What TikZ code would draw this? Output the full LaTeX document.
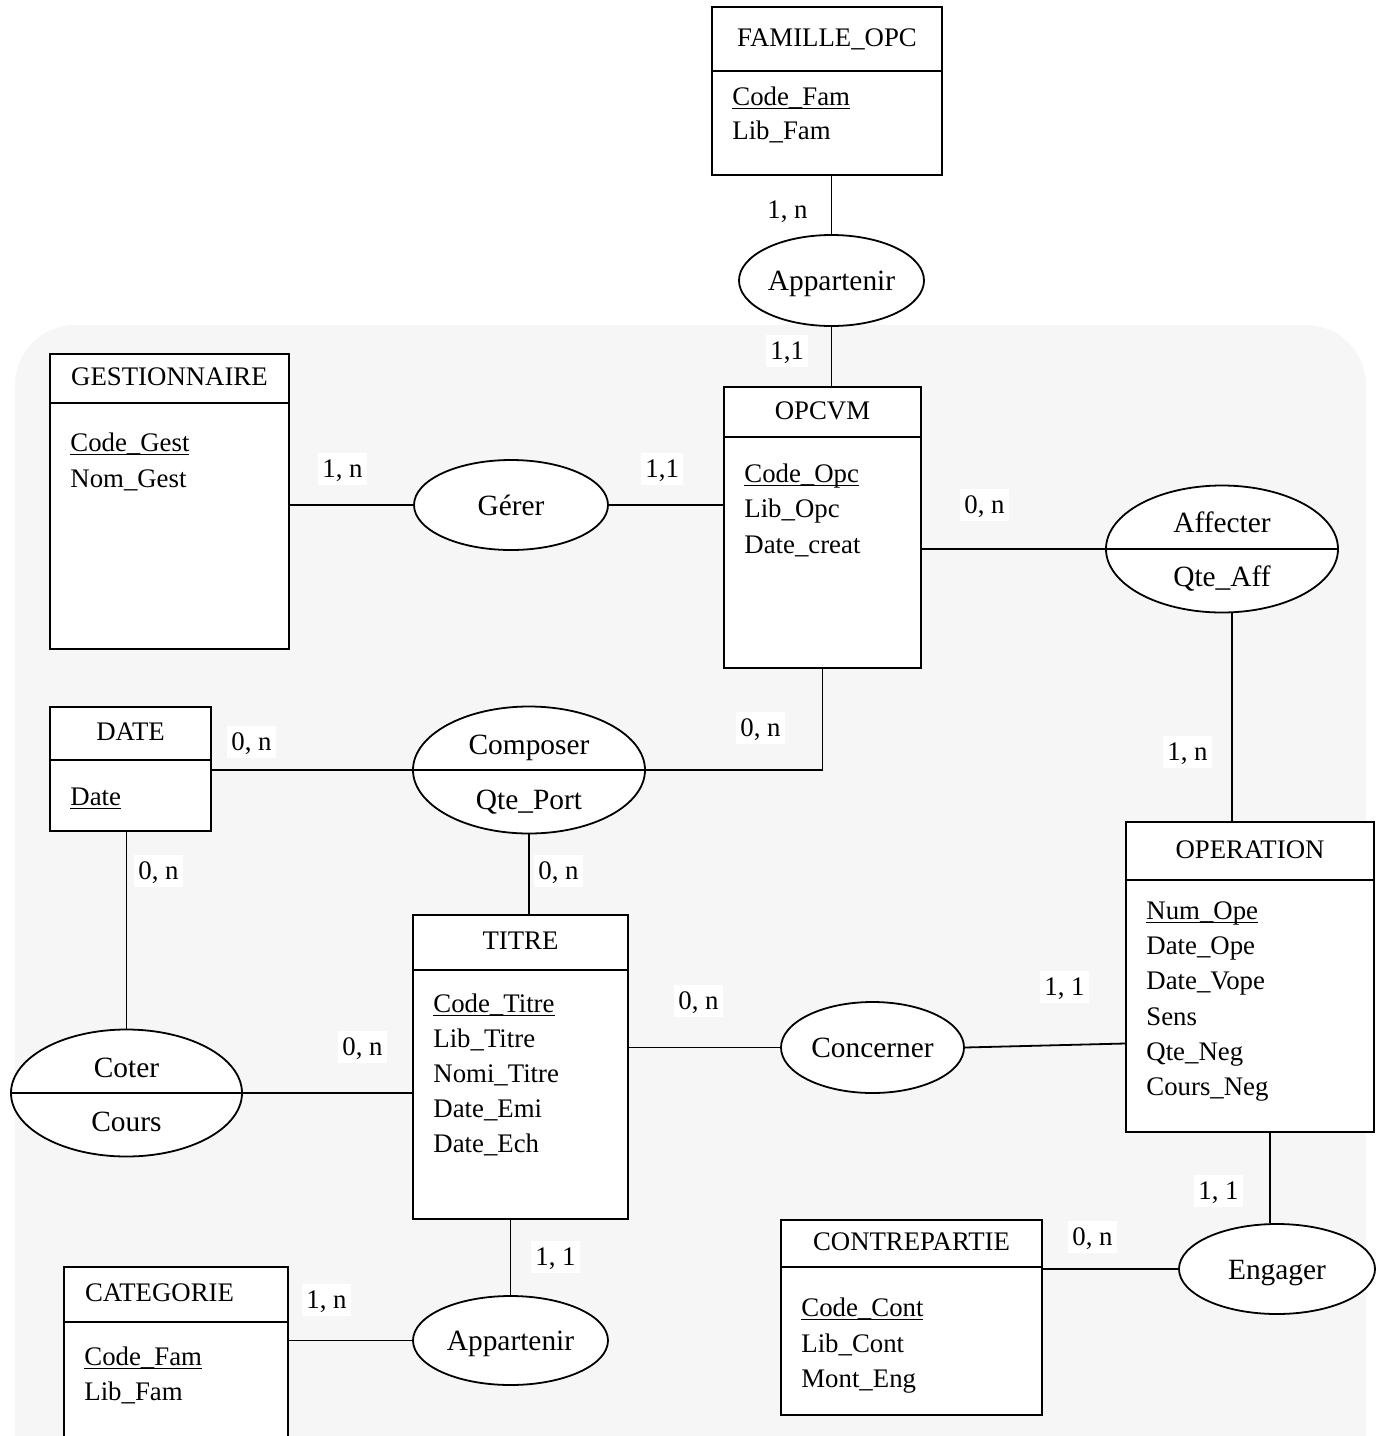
\documentclass[tikz,border=0pt]{standalone}
\usepackage{fontspec}
\setmainfont{Liberation Serif}
\usepackage{tikz}
\usetikzlibrary{shapes.geometric, positioning, fit}

% entity box: [title options]{name}{x1}{y1}{x2}{y2}{separator y}{title}{y/attribute list}
\newcommand{\entite}[9][]{%
  \node[ent, fit={(#3,#4) (#5,#6)}] (#2) {};
  \draw[lien] (#3,#7) -- (#5,#7);
  \node[etitle, #1] (#2-titre) at ({(#3+#5)/2}, {(#4+#7)/2}) {#8};
  \foreach \y/\a [count=\i] in {#9}
    \node[attr] (#2-\i) at (#3+20, \y) {\a};
}
\newcommand{\cle}[1]{\underline{\smash{#1}}}

\begin{document}
\begin{tikzpicture}[x=0.5pt, y=-0.5pt,
    ent/.style={draw, fill=white, line width=0.9pt, inner sep=0pt},
    lien/.style={line width=0.9pt},
    etitle/.style={inner sep=0pt, text height=0.73em, text depth=0pt, font=\fontsize{13.4}{16}\selectfont},
    attr/.style={anchor=west, inner sep=0pt, text height=0.88em, text depth=0pt, font=\fontsize{13.4}{16}\selectfont},
    rel/.style={draw, ellipse, fill=white, line width=0.9pt, inner sep=0pt,
                text height=1em, text depth=0pt, font=\fontsize{14.7}{17}\selectfont},
    rtxt/.style={inner sep=0pt, text height=0.93em, text depth=0pt, font=\fontsize{14.7}{17}\selectfont},
    card/.style={fill=white, anchor=west, inner xsep=2pt, inner ysep=3.75pt,
                 text height=0.85em, text depth=0pt, font=\fontsize{13.4}{16}\selectfont}
  ]
    \useasboundingbox (0,0) rectangle (1381,1436);
    \clip (0,0) rectangle (1381,1436);

    % faint watermark behind the model
    \fill[gray!7, rounded corners=30pt] (15,325) rectangle (1366,1500);

    % entities
    \entite{fam}{712}{7}{942}{175}{71}{FAMILLE\_OPC}{97/\cle{Code\_Fam}, 131/Lib\_Fam}
    \entite{gest}{50}{354}{289}{649}{403}{GESTIONNAIRE}{443/\cle{Code\_Gest}, 479/Nom\_Gest}
    \entite{opcvm}{724}{387}{921}{668}{437}{OPCVM}{474/\cle{Code\_Opc}, 509/Lib\_Opc, 545/Date\_creat}
    \entite{date}{50}{707}{211}{831}{760}{DATE}{797/\cle{Date}}
    \entite{titre}{413}{915}{628}{1219}{970}{TITRE}{1004/\cle{Code\_Titre}, 1039/Lib\_Titre,
      1074/Nomi\_Titre, 1109/Date\_Emi, 1144/Date\_Ech}
    \entite{oper}{1126}{822}{1374}{1132}{880}{OPERATION}{911/\cle{Num\_Ope}, 946/Date\_Ope,
      981/Date\_Vope, 1017/Sens, 1052/Qte\_Neg, 1087/Cours\_Neg}
    \entite[xshift=-8.25pt]{cat}{64}{1267}{288}{1470}{1322}{CATEGORIE}{1357/\cle{Code\_Fam}, 1392/Lib\_Fam}
    \entite{contre}{781}{1220}{1042}{1415}{1267}{CONTREPARTIE}{1308/\cle{Code\_Cont}, 1344/Lib\_Cont, 1379/Mont\_Eng}

    % associations
    \node[rel, minimum width=92.5pt, minimum height=45.5pt] (app1) at (831.5,280.5) {Appartenir};
    \node[rel, minimum width=97pt, minimum height=45pt]     (gerer) at (511,505) {Gérer};
    \node[rel, minimum width=116pt, minimum height=63.5pt]  (aff) at (1222,549) {};
    \node[rel, minimum width=116pt, minimum height=63.5pt]  (comp) at (529,770) {};
    \node[rel, minimum width=115.5pt, minimum height=63.5pt] (coter) at (126.5,1093) {};
    \node[rel, minimum width=91.5pt, minimum height=45.5pt] (conc) at (872.5,1047.5) {Concerner};
    \node[rel, minimum width=98pt, minimum height=45pt]     (eng) at (1277,1269) {Engager};
    \node[rel, minimum width=97.5pt, minimum height=44.5pt] (app2) at (510.5,1340.5) {Appartenir};

    \node[rtxt] (aff-nom)   at ([yshift=13pt]aff.center)    {Affecter};
    \node[rtxt] (aff-att)   at ([yshift=-14pt]aff.center)   {Qte\_Aff};
    \node[rtxt] (comp-nom)  at ([yshift=12.5pt]comp.center) {Composer};
    \node[rtxt] (comp-att)  at ([yshift=-15pt]comp.center)  {Qte\_Port};
    \node[rtxt] (coter-nom) at ([yshift=12.5pt]coter.center) {Coter};
    \node[rtxt] (coter-att) at ([yshift=-14.5pt]coter.center) {Cours};

    % links
    \draw[lien] (app1.north) -- (app1.north |- fam.south);
    \draw[lien] (app1.south) -- (app1.south |- opcvm.north);
    \draw[lien] (gerer.west) -- (gerer.west -| gest.east);
    \draw[lien] (gerer.east) -- (gerer.east -| opcvm.west);
    \draw[lien] (aff.west -| opcvm.east) -- (aff.west) -- (aff.east);
    \draw[lien] ([xshift=5pt]aff.south) -- ([xshift=5pt]aff.south |- oper.north);
    \draw[lien] (comp.center -| date.east) -- (comp.center -| opcvm.south) -- (opcvm.south);
    \draw[lien] (comp.south) -- (comp.south |- titre.north);
    \draw[lien] (coter.north) -- (coter.north |- date.south);
    \draw[lien] (coter.west) -- (coter.east) -- (coter.east -| titre.west);
    \draw[lien] (conc.west) -- (conc.west -| titre.east);
    \draw[lien] (conc.east) -- ([yshift=2pt]conc.east -| oper.west);
    \draw[lien] ([xshift=-3.5pt]eng.north) -- ([xshift=-3.5pt]eng.north |- oper.south);
    \draw[lien] (eng.west) -- (eng.west -| contre.east);
    \draw[lien] (app2.north) -- (app2.north |- titre.south);
    \draw[lien] (app2.west) -- (app2.west -| cat.east);

    % cardinalities
    \node[card] (c-fam)    at (763,210)   {1, n};
    \node[card] (c-opc1)   at (766,351)   {1,1};
    \node[card] (c-gest)   at (318,469)   {1, n};
    \node[card] (c-opc2)   at (641,469)   {1,1};
    \node[card] (c-opc3)   at (960,505)   {0, n};
    \node[card] (c-oper1)  at (1163,752)  {1, n};
    \node[card] (c-date1)  at (227,742)   {0, n};
    \node[card] (c-opc4)   at (736,728)   {0, n};
    \node[card] (c-titre1) at (534,871)   {0, n};
    \node[card] (c-date2)  at (134,871)   {0, n};
    \node[card] (c-titre2) at (338,1047)  {0, n};
    \node[card] (c-titre3) at (674,1001)  {0, n};
    \node[card] (c-oper2)  at (1040,987)  {1, 1};
    \node[card] (c-oper3)  at (1194,1191) {1, 1};
    \node[card] (c-contre) at (1068,1237) {0, n};
    \node[card] (c-titre4) at (531,1257)  {1, 1};
    \node[card] (c-cat)    at (302,1300)  {1, n};

  \end{tikzpicture}
\end{document}
